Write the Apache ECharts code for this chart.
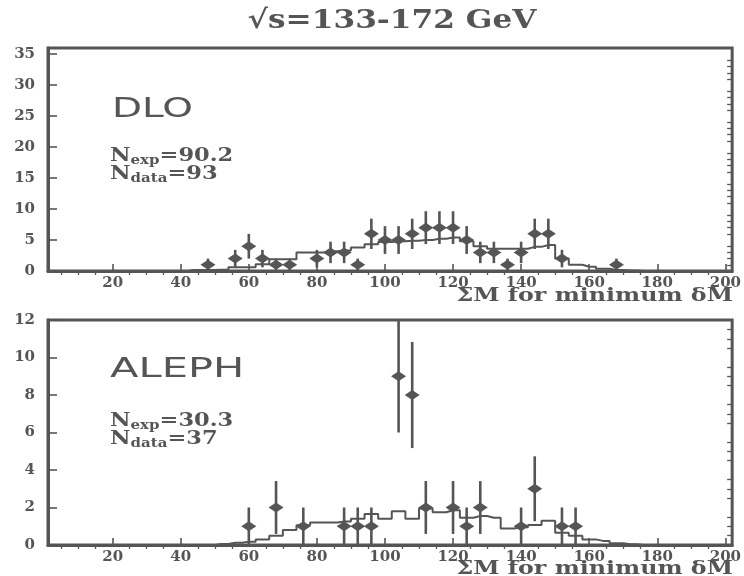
<!DOCTYPE html>
<html>
<head>
<meta charset="utf-8">
<script src="https://cdn.jsdelivr.net/npm/echarts@6/dist/echarts.min.js"></script>
<style>
html, body { margin: 0; padding: 0; background: #fff; }
#chart { width: 744px; height: 576px; }
</style>
</head>
<body>
<div id="chart"></div>
<script>
// DLO panel: data points (bin centre, entries, error) and MC expectation per 4 GeV bin
var dloX = [48, 56, 60, 64, 68, 72, 80, 84, 88, 92, 96, 100, 104, 108, 112, 116, 120, 124, 128, 132, 136, 140, 144, 148, 152, 168];
var dloN = [1, 2, 4, 2, 1, 1, 2, 3, 3, 1, 6, 5, 5, 6, 7, 7, 7, 5, 3, 3, 1, 3, 6, 6, 2, 1];
var dloErr = [1, 1.41, 2, 1.41, 1, 1, 1.41, 1.73, 1.73, 1, 2.45, 2.24, 2.24, 2.45, 2.65, 2.65, 2.65, 2.24, 1.73, 1.73, 1, 1.73, 2.45, 2.45, 1.41, 1];
var dloMcX = [44, 48, 52, 56, 60, 64, 68, 72, 76, 80, 84, 88, 92, 96, 100, 104, 108, 112, 116, 120, 124, 128, 132, 136, 140, 144, 148, 152, 156, 160, 164, 168, 172];
var dloMc = [0.15, 0.15, 0.2, 0.6, 0.6, 1.1, 1.9, 1.9, 3.0, 3.0, 3.2, 3.3, 3.8, 4.3, 4.7, 4.8, 4.9, 5.0, 5.2, 5.4, 4.8, 4.0, 3.6, 3.6, 3.6, 3.9, 4.2, 2.0, 1.0, 0.7, 0.35, 0.15, 0.1];

// ALEPH panel
var alephX = [60, 68, 76, 88, 92, 96, 104, 108, 112, 120, 124, 128, 140, 144, 152, 156];
var alephN = [1, 2, 1, 1, 1, 1, 9, 8, 2, 2, 1, 2, 1, 3, 1, 1];
var alephErr = [1, 1.41, 1, 1, 1, 1, 3, 2.83, 1.41, 1.41, 1, 1.41, 1, 1.73, 1, 1];
var alephMcX = [52, 56, 60, 64, 68, 72, 76, 80, 84, 88, 92, 96, 100, 104, 108, 112, 116, 120, 124, 128, 132, 136, 140, 144, 148, 152, 156, 160, 164, 168, 172];
var alephMc = [0.05, 0.12, 0.18, 0.3, 0.5, 0.8, 1.05, 1.2, 1.2, 1.25, 1.4, 1.65, 1.4, 1.8, 1.4, 1.95, 1.75, 1.85, 1.45, 1.55, 1.45, 0.88, 0.95, 1.07, 1.3, 0.65, 0.5, 0.3, 0.22, 0.1, 0.04];

// tick labels
var xTicks = [20, 40, 60, 80, 100, 120, 140, 160, 180, 200];
var xMinor = [5, 10, 15, 25, 30, 35, 45, 50, 55, 65, 70, 75, 85, 90, 95, 105, 110, 115, 125, 130, 135, 145, 150, 155, 165, 170, 175, 185, 190, 195];
var dloTicks = [0, 5, 10, 15, 20, 25, 30, 35];
var dloMinor = [1, 2, 3, 4, 6, 7, 8, 9, 11, 12, 13, 14, 16, 17, 18, 19, 21, 22, 23, 24, 26, 27, 28, 29, 31, 32, 33, 34];
var alephTicks = [0, 2, 4, 6, 8, 10, 12];
var alephMinor = [0.5, 1, 1.5, 2.5, 3, 3.5, 4.5, 5, 5.5, 6.5, 7, 7.5, 8.5, 9, 9.5, 10.5, 11, 11.5];

var INK = '#555555';
var SERIF = '"DejaVu Serif", serif';

var chart = echarts.init(document.getElementById('chart'));

function pairs(xs, ys) {
    return xs.map(function (x, i) { return [x, ys[i]]; });
}
function mcLine(xs, ys) {
    // pad with empty bins so the steps close on the axis
    return [[xs[0] - 4, 0]].concat(pairs(xs, ys)).concat([[xs[xs.length - 1] + 4, 0]]);
}
function errData(xs, ns, es) {
    return xs.map(function (x, i) { return [x, ns[i], es[i]]; });
}
function renderErr(params, api) {
    var x = api.value(0), n = api.value(1), e = api.value(2);
    var lo = api.coord([x, n - e]);
    var hi = api.coord([x, n + e]);
    return {
        type: 'line',
        shape: {x1: lo[0], y1: lo[1], x2: hi[0], y2: hi[1]},
        style: {stroke: INK, lineWidth: 2.6}
    };
}
function xAxes(grid) {
    return [{
        gridIndex: grid, type: 'value', min: 1, max: 202,
        axisLine: {onZero: false, lineStyle: {color: INK, width: 3}},
        axisTick: {inside: true, length: 7, customValues: xTicks, lineStyle: {color: INK, width: 1.6}},
        axisLabel: {customValues: xTicks, margin: 5, color: INK, fontFamily: SERIF, fontWeight: 'bold', fontSize: 15},
        splitLine: {show: false}
    }, {
        gridIndex: grid, type: 'value', min: 1, max: 202,
        axisLine: {show: false},
        axisTick: {inside: true, length: 4, customValues: xMinor, lineStyle: {color: INK, width: 1.3}},
        axisLabel: {show: false},
        splitLine: {show: false}
    }];
}
function yAxes(grid, max, ticks, minor) {
    return [{
        gridIndex: grid, type: 'value', min: 0, max: max,
        axisLine: {show: true, lineStyle: {color: INK, width: 3}},
        axisTick: {show: true, inside: true, length: 9, customValues: ticks, lineStyle: {color: INK, width: 1.6}},
        axisLabel: {customValues: ticks, margin: 13, color: INK, fontFamily: SERIF, fontWeight: 'bold', fontSize: 15},
        splitLine: {show: false}
    }, {
        gridIndex: grid, type: 'value', min: 0, max: max,
        axisLine: {show: false},
        axisTick: {show: true, inside: true, length: 5, customValues: minor, lineStyle: {color: INK, width: 1.3}},
        axisLabel: {show: false},
        splitLine: {show: false}
    }];
}
function richN(sub, rest) {
    return {
        text: '{a|N}{b|' + sub + '}{a|' + rest + '}',
        rich: {
            a: {fontFamily: SERIF, fontWeight: 'bold', fontSize: 18, fill: INK},
            b: {fontFamily: SERIF, fontWeight: 'bold', fontSize: 12, fill: INK, padding: [10, 0, 0, 0]}
        }
    };
}

var option = {
    backgroundColor: '#ffffff',
    animation: false,
    grid: [
        {left: 48, top: 48, width: 685, height: 223, show: true, borderColor: INK, borderWidth: 3},
        {left: 48, top: 320, width: 685, height: 225, show: true, borderColor: INK, borderWidth: 3}
    ],
    xAxis: xAxes(0).concat(xAxes(1)),
    yAxis: yAxes(0, 36, dloTicks, dloMinor).concat(yAxes(1, 12, alephTicks, alephMinor)),
    series: [{
        type: 'line', xAxisIndex: 0, yAxisIndex: 0, step: 'middle', symbol: 'none',
        lineStyle: {color: INK, width: 2}, data: mcLine(dloMcX, dloMc)
    }, {
        type: 'custom', xAxisIndex: 0, yAxisIndex: 0, clip: true,
        renderItem: renderErr, data: errData(dloX, dloN, dloErr)
    }, {
        type: 'scatter', xAxisIndex: 0, yAxisIndex: 0, symbol: 'diamond', symbolSize: [15, 10],
        itemStyle: {color: INK, opacity: 1}, data: pairs(dloX, dloN)
    }, {
        type: 'line', xAxisIndex: 2, yAxisIndex: 2, step: 'middle', symbol: 'none',
        lineStyle: {color: INK, width: 2}, data: mcLine(alephMcX, alephMc)
    }, {
        type: 'custom', xAxisIndex: 2, yAxisIndex: 2, clip: true,
        renderItem: renderErr, data: errData(alephX, alephN, alephErr)
    }, {
        type: 'scatter', xAxisIndex: 2, yAxisIndex: 2, symbol: 'diamond', symbolSize: [15, 10],
        itemStyle: {color: INK, opacity: 1}, data: pairs(alephX, alephN)
    }],
    graphic: [{
        type: 'text', x: 392, y: 21, scaleX: 1.2,
        style: {text: '√s=133-172 GeV', fill: INK, font: 'bold 26px ' + SERIF, textAlign: 'center', textVerticalAlign: 'middle'}
    }, {
        type: 'text', x: 112, y: 110, scaleX: 1.5,
        style: {text: 'DLO', fill: INK, font: '26px "DejaVu Sans", sans-serif', textVerticalAlign: 'middle'}
    }, {
        type: 'text', x: 110, y: 370, scaleX: 1.6,
        style: {text: 'ALEPH', fill: INK, font: '26px "DejaVu Sans", sans-serif', textVerticalAlign: 'middle'}
    }, {
        type: 'text', x: 110, y: 156, scaleX: 1.25,
        style: Object.assign(richN('exp', '=90.2'), {textVerticalAlign: 'middle'})
    }, {
        type: 'text', x: 110, y: 174, scaleX: 1.25,
        style: Object.assign(richN('data', '=93'), {textVerticalAlign: 'middle'})
    }, {
        type: 'text', x: 110, y: 421, scaleX: 1.25,
        style: Object.assign(richN('exp', '=30.3'), {textVerticalAlign: 'middle'})
    }, {
        type: 'text', x: 110, y: 439, scaleX: 1.25,
        style: Object.assign(richN('data', '=37'), {textVerticalAlign: 'middle'})
    }, {
        type: 'text', x: 733, y: 296, scaleX: 1.25,
        style: {text: 'ΣM for minimum δM', fill: INK, font: 'bold 19px ' + SERIF, textAlign: 'right', textVerticalAlign: 'middle'}
    }, {
        type: 'text', x: 733, y: 569, scaleX: 1.25,
        style: {text: 'ΣM for minimum δM', fill: INK, font: 'bold 19px ' + SERIF, textAlign: 'right', textVerticalAlign: 'middle'}
    }]
};
chart.setOption(option);
</script>
</body>
</html>
